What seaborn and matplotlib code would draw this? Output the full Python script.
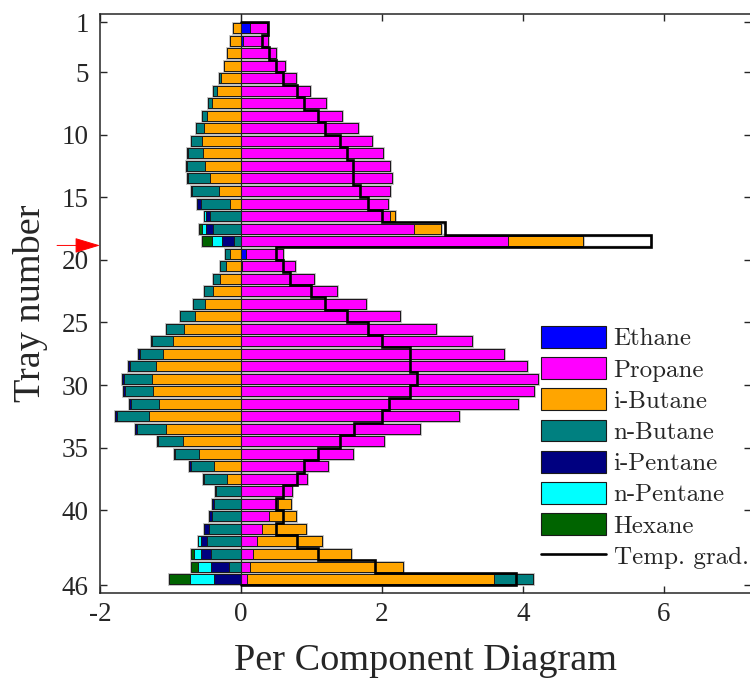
import numpy as np
import matplotlib
matplotlib.use("Agg")
import matplotlib.pyplot as plt
import seaborn as sns
from matplotlib.patches import Patch
from matplotlib.lines import Line2D

# Stages sit between consecutive trays: stage k spans tray k .. k+1
stage = np.arange(1, 46)

components = ["Ethane", "Propane", "i-Butane", "n-Butane",
              "i-Pentane", "n-Pentane", "Hexane"]
comp_colors = ["#0000ff", "#ff00ff", "#ffa500", "#008080",
               "#000080", "#00ffff", "#006400"]

ethane = [0.128, 0.033, 0, 0, 0, 0, 0, 0, 0, 0,
          0, 0, 0, 0, 0, 0, 0, 0, 0.066, 0.02,
          0, 0, 0, 0, 0, 0, 0, 0, 0, 0,
          0, 0, 0, 0, 0, 0, 0, 0, 0, 0,
          0, 0, 0, 0, 0]
propane = [0.237, 0.355, 0.492, 0.625, 0.786, 0.980, 1.203, 1.430, 1.662, 1.856,
           2.013, 2.112, 2.140, 2.116, 2.083, 2.116, 2.448, 3.785, 0.526, 0.752,
           1.032, 1.368, 1.776, 2.249, 2.765, 3.277, 3.731, 4.058, 4.214, 4.157,
           3.925, 3.092, 2.533, 2.027, 1.595, 1.240, 0.942, 0.720, 0.525, 0.402,
           0.303, 0.222, 0.166, 0.128, 0.090]
i_butane = [-0.118, -0.152, -0.194, -0.241, -0.288, -0.345, -0.416, -0.479, -0.526, -0.558,
            -0.544, -0.510, -0.433, -0.312, -0.152, 0.074, 0.389, 1.065, -0.160, -0.217,
            -0.298, -0.393, -0.516, -0.653, -0.810, -0.970, -1.112, -1.207, -1.260, -1.246,
            -1.169, -1.307, -1.065, -0.820, -0.592, -0.384, -0.195, 0.0, 0.180, 0.379,
            0.616, 0.933, 1.396, 2.163, 3.500]
n_butane = [0, 0, 0, 0, -0.029, -0.048, -0.052, -0.075, -0.109, -0.152,
            -0.205, -0.256, -0.312, -0.379, -0.420, -0.440, -0.393, -0.095, -0.062, -0.080,
            -0.104, -0.137, -0.166, -0.213, -0.256, -0.290, -0.327, -0.369, -0.398, -0.402,
            -0.393, -0.455, -0.409, -0.355, -0.341, -0.327, -0.327, -0.350, -0.380, -0.407,
            -0.455, -0.478, -0.426, -0.175, 0.549]
i_pentane = [0, 0, 0, 0, 0, 0, 0, 0, 0, 0,
             -0.014, -0.014, -0.020, -0.014, -0.048, -0.050, -0.108, -0.168, 0, 0,
             0, 0, 0, 0, 0, -0.023, -0.024, -0.024, -0.024, -0.024,
             -0.024, -0.028, -0.028, -0.019, -0.019, -0.024, -0.014, -0.023, -0.028, -0.040,
             -0.066, -0.085, -0.146, -0.251, -0.388]
n_pentane = [0, 0, 0, 0, 0, 0, 0, 0, 0, 0,
             0, 0, 0, 0, 0, -0.034, -0.057, -0.153, 0, 0,
             0, 0, 0, 0, 0, 0, 0, 0, 0, 0,
             0, 0, 0, 0, 0, 0, 0, 0, 0, 0,
             0, -0.047, -0.100, -0.185, -0.341]
hexane = [0, 0, 0, 0, 0, 0, 0, 0, 0, 0,
          0, 0, 0, 0, 0, 0, -0.034, -0.142, 0, 0,
          0, 0, 0, 0, 0, 0, 0, 0, 0, 0,
          0, 0, 0, 0, 0, 0, 0, 0, 0, 0,
          0, 0, -0.033, -0.104, -0.294]
temp_grad = [0.388, 0.298, 0.398, 0.497, 0.597, 0.795, 0.895, 1.094, 1.198, 1.397,
             1.501, 1.587, 1.595, 1.690, 1.795, 2.000, 2.898, 5.810, 0.493, 0.592,
             0.696, 0.994, 1.193, 1.501, 1.800, 2.000, 2.400, 2.400, 2.495, 2.400,
             2.098, 2.000, 1.600, 1.402, 1.098, 0.895, 0.791, 0.597, 0.501, 0.597,
             0.492, 0.795, 1.094, 1.903, 3.906]

ytick_vals = [1, 5, 10, 15, 20, 25, 30, 35, 40, 46]
xtick_vals = [-2, 0, 2, 4, 6]

sns.set_theme(style="ticks")
plt.rcParams["font.family"] = ["Liberation Serif", "DejaVu Serif"]
plt.rcParams["axes.unicode_minus"] = False

fig = plt.figure(figsize=(7.5, 6.79), dpi=100)
ax = fig.add_axes([100 / 750, 1 - 593.3 / 679, 650 / 750 + 0.001, (593.3 - 14) / 679])

centers = stage + 0.5
edge_dark = "#1a1a1a"

# temperature-gradient bars (white, behind the composition bars)
sns.barplot(x=np.array(temp_grad), y=centers, orient="y", native_scale=True,
            color="white", saturation=1, edgecolor="#b0b0b0", linewidth=1.0,
            errorbar=None, ax=ax, zorder=1)

values = np.array([ethane, propane, i_butane, n_butane, i_pentane, n_pentane, hexane])
pos_stack = np.cumsum(np.clip(values, 0, None), axis=0)
neg_stack = np.cumsum(np.clip(values, None, 0), axis=0)

# soft grey rim around each whole bar
for stack in (pos_stack[-1], neg_stack[-1]):
    sns.barplot(x=stack, y=centers, orient="y", native_scale=True,
                color="white", saturation=1, edgecolor="#bcbcbc", linewidth=2.0,
                errorbar=None, ax=ax, zorder=1.5)

# diverging stacked bars: draw outermost cumulative layer first
for i in reversed(range(len(components))):
    for stack in (pos_stack, neg_stack):
        sns.barplot(x=stack[i], y=centers, orient="y", native_scale=True,
                    color=comp_colors[i], saturation=1, edgecolor=edge_dark,
                    linewidth=0.7, errorbar=None, ax=ax, zorder=2)

ax.axvline(0, color="#222222", lw=0.8, zorder=3)

# temperature-gradient staircase
tg = np.array(temp_grad)
step_y = np.repeat(np.arange(1, 47), 2)
step_x = np.concatenate([[0.0], np.repeat(tg, 2), [0.0]])
ax.plot(step_x, step_y, color="black", lw=1.9, solid_joinstyle="miter", zorder=4)

ax.set_xlim(-2, 7.23)
ax.set_ylim(46.64, 0.36)
ax.set_xticks(xtick_vals)
ax.set_xticklabels([str(v) for v in xtick_vals])
ax.set_yticks(ytick_vals)
ax.set_yticklabels([str(v) for v in ytick_vals])
ax.tick_params(axis="both", which="both", direction="in", length=5, width=1.0,
               color="#262626", labelcolor="#262626", labelsize=19.5,
               top=True, right=True)
ax.tick_params(axis="y", pad=8)
ax.tick_params(axis="x", pad=6)
for sp in ax.spines.values():
    sp.set_color("#262626")
    sp.set_linewidth(1.1)
    sp.set_visible(True)

ax.set_xlabel("Per Component Diagram", fontsize=27.5, color="#262626", labelpad=12)
ax.set_ylabel("Tray number", fontsize=27.5, color="#262626", labelpad=10)

# marker for the feed tray
ax.annotate("", xy=(0, 18.85), xycoords=("axes fraction", "data"),
            xytext=(-0.066, 18.85), textcoords=("axes fraction", "data"),
            arrowprops=dict(arrowstyle="-|>,head_length=0.8,head_width=0.24",
                            color="red", lw=0.7, mutation_scale=20,
                            shrinkA=0, shrinkB=0),
            annotation_clip=False)

handles = [Patch(facecolor=c, edgecolor=edge_dark, linewidth=0.8) for c in comp_colors]
handles.append(Line2D([], [], color="black", lw=1.9))
labels = components + ["Temp. grad."]
fig.legend(handles, labels, loc="upper left",
           bbox_to_anchor=(541 / 750, 1 - 326 / 679), bbox_transform=fig.transFigure,
           frameon=False, borderpad=0, borderaxespad=0,
           prop={"family": "cmr10", "size": 18},
           handlelength=2.6, handleheight=0.96, handletextpad=0.3, labelspacing=0.27)

fig.savefig("out.png", dpi=100)
